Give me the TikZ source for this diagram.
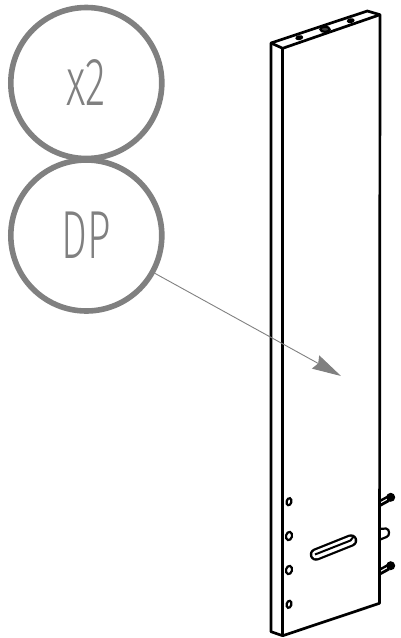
\documentclass[tikz,border=0pt]{standalone}
\usepackage{fontspec}
\usetikzlibrary{arrows.meta}
\setmainfont{Fira Sans Light}
\definecolor{callgray}{HTML}{808080}
\tikzset{
  callout/.style={circle, draw=callgray, line width=5.6pt, minimum size=151pt, inner sep=0pt, text=callgray, font=\fontsize{68pt}{68pt}\selectfont},
  panel/.style={line width=2.7pt, line join=round, black},
  hole/.style={line width=2.2pt, black, fill=white},
}
\begin{document}
\begin{tikzpicture}[x=1pt,y=-1pt]
    \useasboundingbox (0,0) rectangle (400,638);

    % Callouts
    \node[callout] (count) at (86.3,83) {\scalebox{0.62}[1]{x2}};
    \node[callout] (label) at (86.3,235.5) {\scalebox{0.6}[1]{DP}};

    % Bolts and loop behind the panel edge
    \draw[line width=2.4pt] (379,501.5) -- (388,496.5);
    \draw[line width=2.8pt] (379,506) -- (389,500.5);
    \fill (390.7,497.3) circle (4.5);
    \draw[line width=2.4pt] (379,570) -- (388,565);
    \draw[line width=2.8pt] (379,574.5) -- (389,569);
    \fill (390.7,565.7) circle (4.5);
    \draw[line width=2.2pt] (379,529) -- (386,528.5) .. controls (390,529) and (390,536) .. (386.5,537) -- (379,540);

    % Panel outline
    \draw[panel, fill=white] (271,43) -- (367.3,11) -- (380,14.7) -- (379.5,603.3) -- (282.7,635.7) -- (271,631.7) -- cycle;
    \draw[panel] (271,43) -- (282.7,48.3) -- (380,14.7);
    \draw[panel] (282.7,48.3) -- (282.7,635.7);

    % Holes on top
    \fill (299.3,37.7) ellipse [x radius=4, y radius=2.5, rotate=10];
    \draw[hole, fill=darkgray] (325,29.3) ellipse [x radius=4.6, y radius=2.6];
    \fill (350.7,20.7) ellipse [x radius=4, y radius=2.5, rotate=10];

    % Holes on the face
    \draw[hole] (289,501.7) ellipse [x radius=2.4, y radius=3.6, rotate=-15];
    \draw[hole] (289,536) ellipse [x radius=3, y radius=4.2, rotate=-15];
    \draw[hole] (289,570) ellipse [x radius=3, y radius=4.2, rotate=-15];
    \draw[hole] (289,604.3) ellipse [x radius=2.4, y radius=3.6, rotate=-15];

    % Slot
    \draw[line width=12.5pt, line cap=round] (316,554.5) -- (351,540.5);
    \draw[line width=8pt, line cap=round, white] (316,554.5) -- (351,540.5);
    \draw[line width=2pt] (315,554.5) -- (350.5,540.5) -- (354,536);

    % Arrow
    \coordinate (target) at (341,376);
    \draw[callgray, line width=0.9pt, -{Stealth[length=29pt, width=15pt, inset=3pt]}] (label) -- (target);
\end{tikzpicture}
\end{document}
